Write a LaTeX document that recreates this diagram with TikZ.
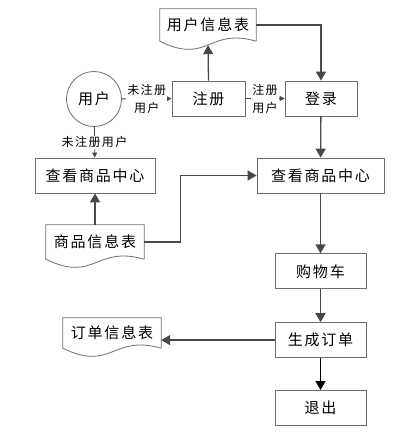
\documentclass[tikz,border=0pt]{standalone}
\usepackage{fontspec}
\newfontfamily\cjk[LetterSpace=12]{Noto Sans CJK SC}
\usetikzlibrary{positioning,arrows.meta,calc}
\definecolor{lineGray}{RGB}{72,72,72}
\definecolor{boxGray}{RGB}{110,110,110}

% document shape with a wavy bottom, drawn round a named node
\newcommand{\docshape}[1]{%
    \draw[docline] (#1.south east) -- (#1.north east) -- (#1.north west) -- (#1.south west)
        .. controls ($(#1.south)+(0,24)$) and ($(#1.south)+(0,-14)$) .. (#1.south east);}

\begin{document}
\begin{tikzpicture}[
    x=1pt, y=-1pt,
    font=\cjk\fontsize{15}{18}\selectfont,
    box/.style={
        draw=boxGray,
        line width=0.8pt,
        fill=white,
        align=center,
        minimum height=35pt,
        minimum width=91pt,
        inner sep=0pt
    },
    round/.style={
        circle,
        draw=boxGray,
        line width=0.8pt,
        minimum size=55pt,
        inner sep=0pt
    },
    docnode/.style={
        minimum width=98pt,
        inner sep=0pt
    },
    docline/.style={
        draw=boxGray,
        line width=0.8pt
    },
    arrow/.style={
        -{Triangle[length=9pt,width=10pt]},
        line width=1.3pt,
        color=lineGray
    },
    thinarrow/.style={
        -{Triangle[length=5pt,width=5pt]},
        line width=0.8pt,
        color=lineGray
    },
    lbl/.style={
        fill=white,
        text=black,
        align=center,
        inner sep=1pt,
        font=\cjk\fontsize{12}{18}\selectfont
    }
]
    \useasboundingbox (0,0) rectangle (401,432);

    % ---------------------------------------------------------
    % TOP: USER, REGISTER, LOGIN
    % ---------------------------------------------------------
    \node[round] (user) at (94,99) {用户};
    \node[box, minimum width=73pt] (reg) at (208.5,98.5) {注册};
    \node[box, minimum width=72pt] (login) at (321,98.5) {登录};

    \node[docnode, minimum width=96pt, minimum height=32pt] (userdb) at (208,25) {用户信息表};
    \docshape{userdb}

    % ---------------------------------------------------------
    % LEFT: BROWSING WITHOUT AN ACCOUNT
    % ---------------------------------------------------------
    \node[box, minimum width=120pt] (leftview) at (95,175.5) {查看商品中心};
    \node[docnode, minimum height=34pt] (goodsdb) at (95,242) {商品信息表};
    \docshape{goodsdb}

    % ---------------------------------------------------------
    % RIGHT: SHOPPING FLOW
    % ---------------------------------------------------------
    \node[box, minimum width=127pt] (rightview) at (320.5,175.5) {查看商品中心};
    \node[box, below=60pt of rightview] (cart) {购物车};
    \node[box, below=33pt of cart] (order) {生成订单};
    \node[box, below=32pt of order] (exit) {退出};

    \node[docnode, minimum height=30pt] (orderdb) at (112,333) {订单信息表};
    \docshape{orderdb}

    % ---------------------------------------------------------
    % ARROWS
    % ---------------------------------------------------------
    \draw[thinarrow] (user) -- node[lbl] {未注册\\用户} (reg);
    \draw[thinarrow] (reg) -- node[lbl] {注册\\用户} (login);
    \draw[thinarrow] (user) -- node[lbl] {未注册用户} (leftview);

    \draw[arrow, shorten >=4pt] (reg.north) -- (userdb.south);
    \draw[arrow] (userdb.east) -| (login.north);
    \draw[arrow] (login) -- (rightview);

    \draw[arrow] (goodsdb.north) -- (leftview.south);
    \draw[arrow] (goodsdb.east) -- ++(36,0) |- (rightview.west);

    \draw[arrow] (rightview) -- (cart);
    \draw[arrow] (cart) -- (order);
    \draw[arrow] (order.west) -- (order.west -| orderdb.east);
    \draw[arrow, color=black] (order) -- (exit);

\end{tikzpicture}
\end{document}
